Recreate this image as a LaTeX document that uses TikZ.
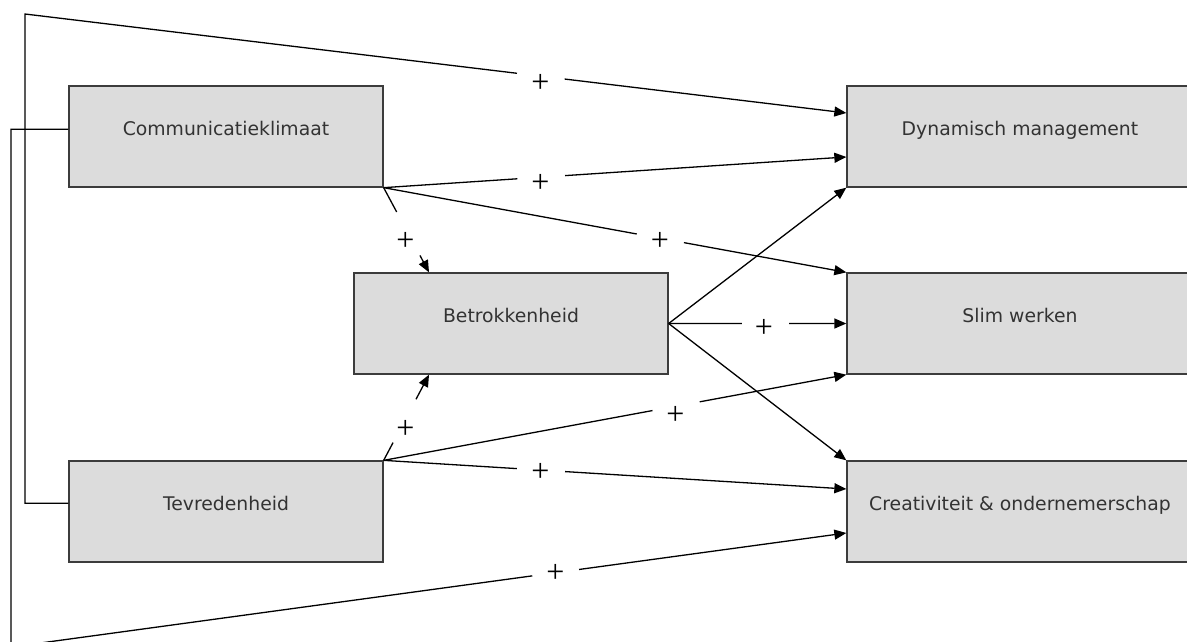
\documentclass[tikz,border=0pt]{standalone}
\usepackage{fontspec}
\setsansfont{DejaVu Sans}
\newfontfamily\signfont{Liberation Serif}
\usetikzlibrary{arrows.meta,calc}
\definecolor{boxfill}{HTML}{DCDCDC}
\definecolor{boxline}{HTML}{3C3C3C}
\definecolor{boxtext}{HTML}{333333}
\tikzset{
  box/.style={draw=boxline, line width=1.3pt, fill=boxfill, minimum height=101pt,
    text=boxtext, font=\sffamily\fontsize{18.8}{22}\selectfont,
    text height=6pt, text depth=8pt, inner sep=0pt},
  leftbox/.style={box, minimum width=314pt},
  rightbox/.style={box, minimum width=346pt},
  link/.style={line width=1.3pt, draw=black},
  arr/.style={link, -{Triangle[length=12pt,width=10pt]}},
  plus/.style={font=\signfont\fontsize{32}{32}\selectfont, inner sep=0pt},
}
% connector from #1 to #2, interrupted between fractions #3 and #4
\newcommand\gapedge[4]{%
  \draw[link] (#1) -- ($(#1)!#3!(#2)$);
  \draw[arr] ($(#1)!#4!(#2)$) -- (#2);
}
\begin{document}
\begin{tikzpicture}[x=1pt,y=-1pt]
\clip (0,0) rectangle (1187,641);
\fill[white] (0,0) rectangle (1187,641);

% constructs
\node[leftbox]  (C) at (226,136.5)  {Communicatieklimaat};
\node[leftbox]  (T) at (226,511.5)  {Tevredenheid};
\node[leftbox]  (B) at (511,323.5)  {Betrokkenheid};
\node[rightbox] (D) at (1020,136.5) {Dynamisch management};
\node[rightbox] (S) at (1020,323.5) {Slim werken};
\node[rightbox] (R) at (1020,511.5) {Creativiteit \& ondernemerschap};

% attachment points
\coordinate (Cw) at ($(C.north west)!0.43!(C.south west)$);
\coordinate (Tw) at ($(T.north west)!0.42!(T.south west)$);
\coordinate (D1) at ($(D.north west)!0.27!(D.south west)$);
\coordinate (D2) at ($(D.north west)!0.70!(D.south west)$);
\coordinate (R1) at ($(R.north west)!0.28!(R.south west)$);
\coordinate (R2) at ($(R.north west)!0.71!(R.south west)$);
\coordinate (Bn) at ($(B.north west)!0.24!(B.north east)$);
\coordinate (Bs) at ($(B.south west)!0.24!(B.south east)$);
\coordinate (TL) at (25,14);
\coordinate (BL) at (11,647);

% outer loops
\draw[link] (Tw) -| (TL) -- ($(TL)!0.599!(D1)$);
\draw[arr] ($(TL)!0.657!(D1)$) -- (D1);
\draw[link] (Cw) -| (BL) -- ($(BL)!0.624!(R2)$);
\draw[arr] ($(BL)!0.680!(R2)$) -- (R2);

% paths from Communicatieklimaat
\gapedge{C.south east}{D2}{0.289}{0.392}
\gapedge{C.south east}{S.north west}{0.547}{0.649}
\gapedge{C.south east}{Bn}{0.287}{0.80}

% paths from Tevredenheid
\gapedge{T.north east}{Bs}{0.207}{0.713}
\gapedge{T.north east}{S.south west}{0.581}{0.683}
\gapedge{T.north east}{R1}{0.288}{0.392}

% paths from Betrokkenheid
\gapedge{B.east}{S.west}{0.412}{0.678}
\draw[arr] (B.east) -- (D.south west);
\draw[arr] (B.east) -- (R.north west);

% signs
\node[plus] (p1) at (540.5,83)    {+};
\node[plus] (p2) at (540.5,183)   {+};
\node[plus] (p3) at (660,241)     {+};
\node[plus] (p4) at (405.5,241.5) {+};
\node[plus] (p5) at (405.5,429)   {+};
\node[plus] (p6) at (675.5,415)   {+};
\node[plus] (p7) at (540.5,472.5) {+};
\node[plus] (p8) at (555.5,573)   {+};
\node[plus] (p9) at (764,328)     {+};
\end{tikzpicture}
\end{document}
